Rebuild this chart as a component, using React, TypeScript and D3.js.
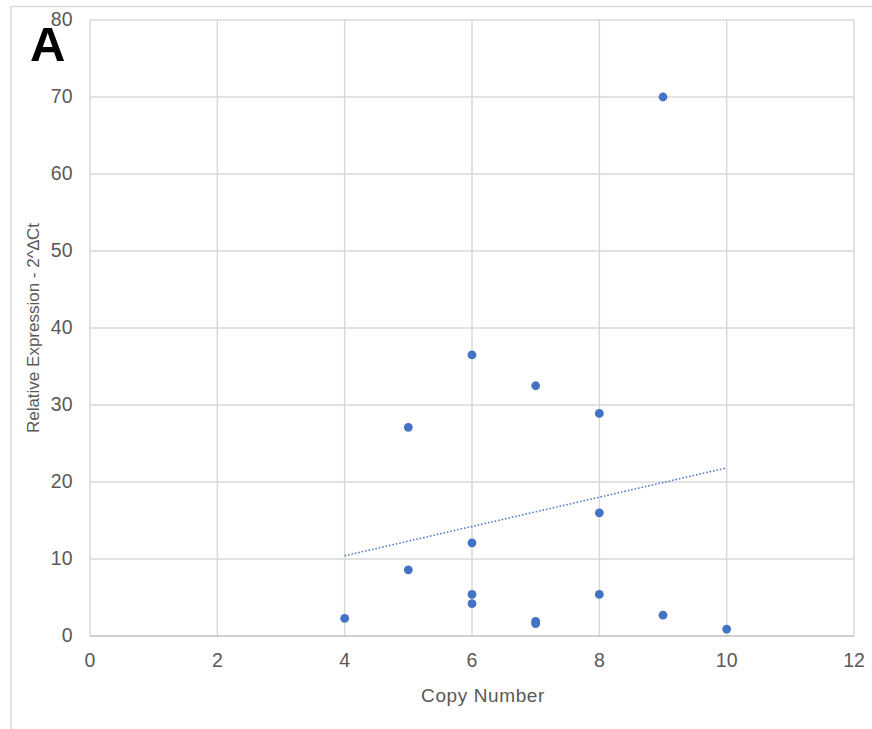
import { useEffect, useRef } from 'react';
import * as d3 from 'd3';

// copy number vs relative expression (2^ΔCt)
const copyNumber = [4, 5, 5, 6, 6, 6, 6, 7, 7, 7, 8, 8, 8, 9, 9, 10];
const expression = [2.3, 27.1, 8.6, 36.5, 12.1, 5.4, 4.2, 32.5, 1.9, 1.6, 28.9, 16.0, 5.4, 70.0, 2.7, 0.9];
const xTicks = [0, 2, 4, 6, 8, 10, 12];
const yTicks = [0, 10, 20, 30, 40, 50, 60, 70, 80];

const W = 872;
const H = 729;
const BLUE = '#4472C4';
const GRID = '#d9d9d9';
const TEXT = '#595959';
const FONT = '"Liberation Sans", Arial, sans-serif';

export default function App() {
  const svgRef = useRef<SVGSVGElement>(null);

  useEffect(() => {
    const svg = d3.select(svgRef.current);
    svg.selectAll('*').remove();

    const x = d3.scaleLinear().domain([0, 12]).range([90, 854]);
    const y = d3.scaleLinear().domain([0, 80]).range([636, 20]);

    // outer frame (only top and left visible)
    svg.append('line').attr('x1', 11).attr('x2', W).attr('y1', 6.5).attr('y2', 6.5)
      .attr('stroke', GRID).attr('stroke-width', 1.5);
    svg.append('line').attr('x1', 11).attr('x2', 11).attr('y1', 6).attr('y2', H)
      .attr('stroke', GRID).attr('stroke-width', 1.5);

    // grid
    svg.append('g').selectAll('line').data(xTicks).join('line')
      .attr('x1', d => x(d)).attr('x2', d => x(d))
      .attr('y1', y(80)).attr('y2', y(0))
      .attr('stroke', GRID).attr('stroke-width', 1.5);
    svg.append('g').selectAll('line').data(yTicks.filter(d => d > 0)).join('line')
      .attr('x1', x(0)).attr('x2', x(12))
      .attr('y1', d => y(d)).attr('y2', d => y(d))
      .attr('stroke', GRID).attr('stroke-width', 1.5);

    // x axis line
    svg.append('line').attr('x1', x(0)).attr('x2', x(12)).attr('y1', y(0)).attr('y2', y(0))
      .attr('stroke', '#bfbfbf').attr('stroke-width', 1.5);

    // tick labels
    svg.append('g').selectAll('text').data(xTicks).join('text')
      .attr('x', d => x(d)).attr('y', 667)
      .attr('text-anchor', 'middle')
      .attr('font-family', FONT).attr('font-size', 19.5).attr('fill', TEXT)
      .text(d => d);
    svg.append('g').selectAll('text').data(yTicks).join('text')
      .attr('x', 72.5).attr('y', d => y(d) + 6.3)
      .attr('text-anchor', 'end')
      .attr('font-family', FONT).attr('font-size', 19.5).attr('fill', TEXT)
      .text(d => d);

    // axis titles
    svg.append('text')
      .attr('x', 483).attr('y', 702)
      .attr('text-anchor', 'middle')
      .attr('font-family', FONT).attr('font-size', 19).attr('fill', TEXT)
      .attr('letter-spacing', 0.6)
      .text('Copy Number');
    svg.append('text')
      .attr('transform', `translate(39,${(y(0) + y(80)) / 2}) rotate(-90)`)
      .attr('text-anchor', 'middle')
      .attr('font-family', FONT).attr('font-size', 17).attr('fill', TEXT)
      .text('Relative Expression - 2^∆Ct');

    // linear trendline
    const data = copyNumber.map((c, i) => ({ c, v: expression[i] }));
    const mx = d3.mean(data, d => d.c)!;
    const my = d3.mean(data, d => d.v)!;
    const sxy = d3.sum(data, d => (d.c - mx) * (d.v - my));
    const sxx = d3.sum(data, d => (d.c - mx) ** 2);
    const slope = sxy / sxx;
    const [x0, x1] = d3.extent(copyNumber) as [number, number];
    const fit = (c: number) => my + slope * (c - mx);
    svg.append('line')
      .attr('x1', x(x0)).attr('y1', y(fit(x0)))
      .attr('x2', x(x1)).attr('y2', y(fit(x1)))
      .attr('stroke', BLUE).attr('stroke-width', 1.5)
      .attr('stroke-dasharray', '1.5,2');

    // points
    svg.append('g').selectAll('circle').data(data).join('circle')
      .attr('cx', d => x(d.c)).attr('cy', d => y(d.v))
      .attr('r', 4.4).attr('fill', BLUE);

    // panel letter
    svg.append('text')
      .attr('x', 30).attr('y', 60.5)
      .attr('font-family', FONT).attr('font-size', 49).attr('font-weight', 'bold')
      .attr('fill', '#000')
      .text('A');
  }, []);

  return (
    <svg
      ref={svgRef}
      width={W}
      height={H}
      style={{ position: 'absolute', left: 0, top: 0, background: '#fff' }}
    />
  );
}
